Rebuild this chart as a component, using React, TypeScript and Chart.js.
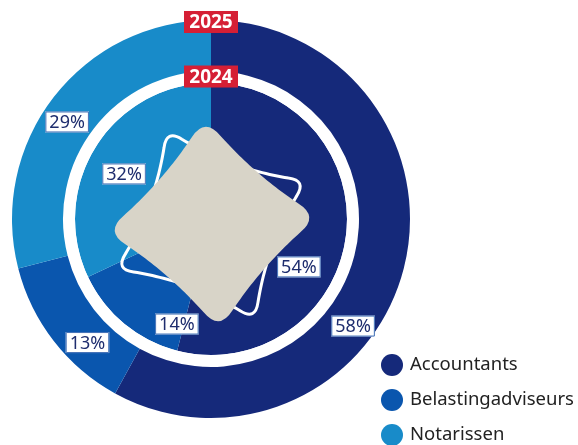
import React, { useEffect, useRef } from "react";
import { Chart, registerables } from "chart.js";

Chart.register(...registerables);

const categories = ["Accountants", "Belastingadviseurs", "Notarissen"];
const values2025 = [58, 13, 29];
const values2024 = [54, 14, 32];
const yearLabels = ["2025", "2024"];
const colors = ["#15297a", "#0a56ae", "#188bc9"];

// label placement: [angle in degrees clockwise from top, radius as fraction of outer radius]
const place2025 = [
  [127, 0.894],
  [225, 0.878],
  [304, 0.872],
];
const place2024 = [
  [118.6, 0.503],
  [198, 0.555],
  [297.4, 0.492],
];

function starPath(
  ctx: CanvasRenderingContext2D,
  cx: number,
  cy: number,
  tipR: number,
  ctrlR: number,
  rotDeg: number,
  t0: number
) {
  const pt = (angDeg: number, r: number) => {
    const a = (angDeg * Math.PI) / 180;
    return [cx + r * Math.sin(a), cy - r * Math.cos(a)];
  };
  const tips = [0, 1, 2, 3].map((i) => pt(rotDeg + i * 90, tipR));
  const ctrls = [0, 1, 2, 3].map((i) => pt(rotDeg + i * 90 + 45, ctrlR));
  const bez = (i: number, t: number) => {
    const A = tips[i];
    const B = tips[(i + 1) % 4];
    const C = ctrls[i];
    const u = 1 - t;
    return [
      u * u * A[0] + 2 * u * t * C[0] + t * t * B[0],
      u * u * A[1] + 2 * u * t * C[1] + t * t * B[1],
    ];
  };
  ctx.beginPath();
  const start = bez(0, t0);
  ctx.moveTo(start[0], start[1]);
  for (let i = 0; i < 4; i++) {
    const n = 30;
    for (let k = 0; k <= n; k++) {
      const t = t0 + ((1 - 2 * t0) * k) / n;
      const p = bez(i, t);
      ctx.lineTo(p[0], p[1]);
    }
    const tip = tips[(i + 1) % 4];
    const next = bez((i + 1) % 4, t0);
    ctx.quadraticCurveTo(tip[0], tip[1], next[0], next[1]);
  }
  ctx.closePath();
}

function labelBox(
  ctx: CanvasRenderingContext2D,
  text: string,
  x: number,
  y: number
) {
  ctx.font = '18px "Noto Sans"';
  const w = ctx.measureText(text).width + 8;
  const h = 21;
  ctx.fillStyle = "#ffffff";
  ctx.fillRect(x - w / 2, y - h / 2, w, h);
  ctx.strokeStyle = "#3d6db5";
  ctx.lineWidth = 1;
  ctx.strokeRect(x - w / 2 + 0.5, y - h / 2 + 0.5, w - 1, h - 1);
  ctx.fillStyle = "#1e2d6e";
  ctx.textAlign = "center";
  ctx.textBaseline = "middle";
  ctx.fillText(text, x, y + 1);
}

function yearBox(ctx: CanvasRenderingContext2D, text: string, x: number, y: number) {
  ctx.font = 'bold 19px "Noto Sans"';
  const w = 54;
  const h = 22;
  ctx.fillStyle = "#d51f35";
  ctx.fillRect(x - w / 2, y - h / 2, w, h);
  ctx.fillStyle = "#ffffff";
  ctx.textAlign = "center";
  ctx.textBaseline = "middle";
  ctx.fillText(text, x, y + 1);
}

const overlayPlugin = {
  id: "overlay",
  afterDatasetsDraw(chart: any) {
    const ctx: CanvasRenderingContext2D = chart.ctx;
    const arc = chart.getDatasetMeta(0).data[0];
    const cx = arc.x;
    const cy = arc.y;
    const R = arc.outerRadius;
    ctx.save();
    // white outline star
    starPath(ctx, cx, cy + 6, R * 0.53, R * 0.28, -25, 0.12);
    ctx.strokeStyle = "#ffffff";
    ctx.lineWidth = 3;
    ctx.lineJoin = "round";
    ctx.stroke();
    // beige star
    starPath(ctx, cx + 1, cy + 5, R * 0.54, R * 0.31, -4, 0.16);
    ctx.fillStyle = "#d8d4c8";
    ctx.fill();

    const put = (vals: number[], place: number[][]) => {
      vals.forEach((v, i) => {
        const a = (place[i][0] * Math.PI) / 180;
        const r = place[i][1] * R;
        labelBox(ctx, v + "%", cx + r * Math.sin(a), cy - r * Math.cos(a));
      });
    };
    put(values2025, place2025);
    put(values2024, place2024);

    yearBox(ctx, yearLabels[0], cx, cy - R * 0.99);
    yearBox(ctx, yearLabels[1], cx, cy - R * 0.716);

    // legend
    categories.forEach((c, i) => {
      const ly = 365 + i * 35;
      ctx.beginPath();
      ctx.arc(392, ly, 11, 0, Math.PI * 2);
      ctx.fillStyle = colors[i];
      ctx.fill();
      ctx.font = '18.5px "Noto Sans"';
      ctx.fillStyle = "#222222";
      ctx.textAlign = "left";
      ctx.textBaseline = "middle";
      ctx.fillText(c, 410, ly);
    });
    ctx.restore();
  },
};

export default function App() {
  const ref = useRef<HTMLCanvasElement | null>(null);
  useEffect(() => {
    if (!ref.current) return;
    const chart = new Chart(ref.current, {
      type: "doughnut",
      data: {
        labels: categories,
        datasets: [
          {
            label: yearLabels[0],
            data: values2025,
            backgroundColor: colors,
            borderWidth: 0,
            weight: 51,
          },
          {
            label: "gap",
            data: [1],
            backgroundColor: ["#ffffff"],
            borderWidth: 0,
            weight: 12,
          },
          {
            label: yearLabels[1],
            data: values2024,
            backgroundColor: colors,
            borderWidth: 0,
            weight: 136,
          },
        ],
      } as any,
      options: {
        responsive: false,
        animation: false,
        cutout: 0,
        layout: { padding: { left: 12, top: 20, right: 168, bottom: 27 } },
        plugins: { legend: { display: false }, tooltip: { enabled: false } },
      } as any,
      plugins: [overlayPlugin],
    });
    return () => chart.destroy();
  }, []);
  return (
    <div style={{ position: "absolute", left: 0, top: 0, width: 578, height: 445, background: "#fff" }}>
      <canvas ref={ref} width={578} height={445} />
    </div>
  );
}
